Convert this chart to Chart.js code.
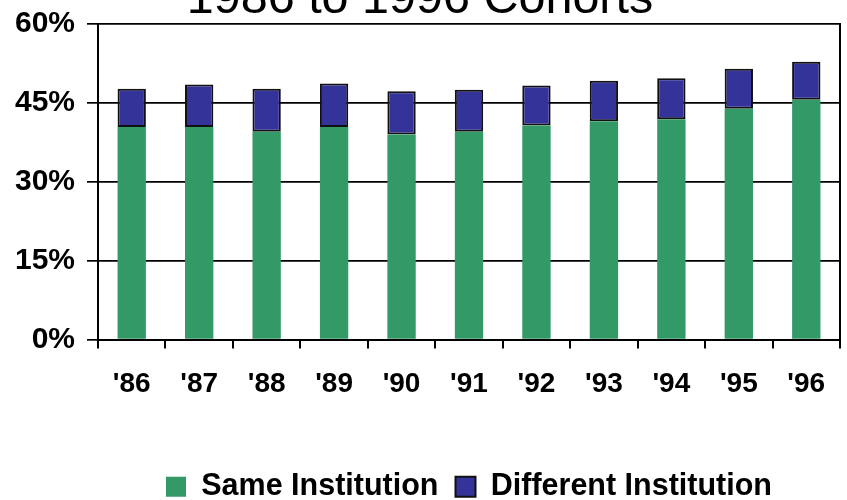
<!DOCTYPE html>
<html>
<head>
<meta charset="utf-8">
<script src="https://cdn.jsdelivr.net/npm/chart.js@4.4.1/dist/chart.umd.min.js"></script>
<style>
  html, body { margin: 0; padding: 0; background: #fff; }
  #wrap { width: 847px; height: 500px; position: relative; }
</style>
</head>
<body>
<div id="wrap"><canvas id="myChart"></canvas></div>
<script>
// cohort years
const cohorts = ["'86", "'87", "'88", "'89", "'90", "'91", "'92", "'93", "'94", "'95", "'96"];
// % completing at the same institution
const sameInst = [40.4, 40.4, 39.5, 40.4, 39.0, 39.5, 40.7, 41.5, 41.9, 43.9, 45.6];
// extra % completing at a different institution (stacked on top)
const diffInst = [7.3, 8.1, 8.2, 8.3, 8.2, 8.0, 7.6, 7.7, 7.8, 7.6, 7.2];
const yTicks = [0, 15, 30, 45, 60];

Chart.defaults.font.family = "'Liberation Sans', Arial, sans-serif";
Chart.defaults.color = '#000';

new Chart(document.getElementById('myChart'), {
  type: 'bar',
  data: {
    labels: cohorts,
    datasets: [
      {
        label: 'Same Institution',
        data: sameInst,
        backgroundColor: '#339966',
        borderWidth: 0,
        barPercentage: 0.42,
        categoryPercentage: 1,
      },
      {
        label: 'Different Institution',
        data: diffInst,
        backgroundColor: '#333399',
        borderColor: '#111',
        borderWidth: 2,
        borderSkipped: false,
        barPercentage: 0.42,
        categoryPercentage: 1,
      },
    ],
  },
  options: {
    responsive: true,
    maintainAspectRatio: false,
    animation: false,
    layout: { padding: { left: 0, right: 7, top: 0, bottom: -12 } },
    plugins: {
      title: {
        display: true,
        text: '1986 to 1996 Cohorts',
        font: { size: 48.5, weight: 'normal' },
        color: '#000',
        padding: { top: -29, bottom: -5.2 },
      },
      legend: {
        position: 'bottom',
        fullSize: false,
        labels: {
          boxWidth: 20,
          boxHeight: 20,
          padding: 17,
          font: { size: 30.5, weight: 'bold' },
          color: '#000',
        },
      },
      tooltip: { enabled: false },
    },
    scales: {
      x: {
        stacked: true,
        grid: { drawOnChartArea: false, drawTicks: true, tickLength: 9, color: '#000', lineWidth: 2 },
        border: { display: true, color: '#000', width: 2 },
        ticks: { font: { size: 28, weight: 'bold' }, color: '#000', padding: 19, maxRotation: 0 },
        afterFit: (scale) => { scale.height = 115; },
      },
      y: {
        stacked: true,
        min: 0,
        max: 60,
        afterBuildTicks: (scale) => { scale.ticks = yTicks.map((v) => ({ value: v })); },
        grid: { color: '#000', lineWidth: 1.7, tickLength: 11 },
        border: { display: true, color: '#000', width: 2 },
        ticks: { font: { size: 30, weight: 'bold' }, color: '#000', padding: 12, callback: (v) => v + '%' },
        afterFit: (scale) => {
          scale.width = 98;
          scale.paddingTop = 0;
          scale.paddingBottom = 0;
        },
      },
      y2: {
        position: 'right',
        display: true,
        grid: { drawOnChartArea: false, drawTicks: false },
        border: { display: true, color: '#000', width: 2 },
        ticks: { display: false },
        afterFit: (scale) => { scale.width = 0; },
      },
    },
  },
});
</script>
</body>
</html>
